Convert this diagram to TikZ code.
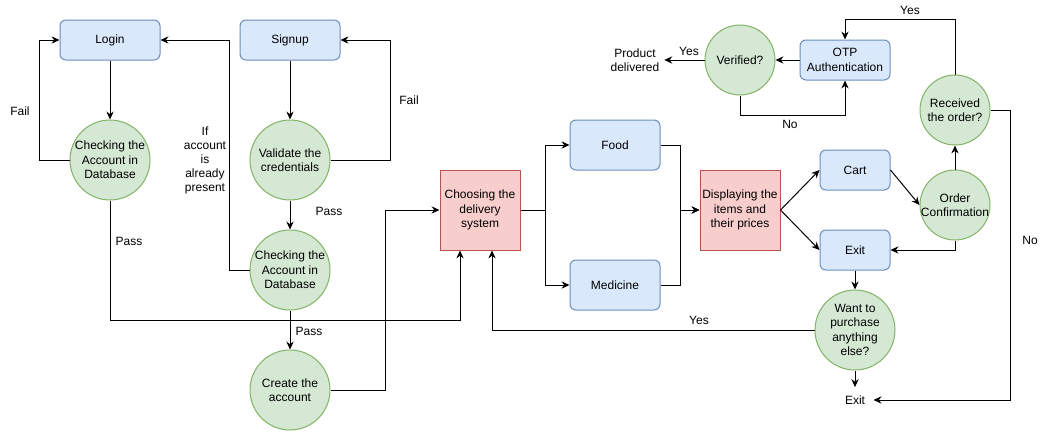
\documentclass[tikz,border=0pt]{standalone}
\usepackage{fontspec}
\setmainfont{Liberation Sans}
\usetikzlibrary{arrows.meta}
\definecolor{bluefill}{HTML}{DAE8FC}
\definecolor{blueline}{HTML}{6C8EBF}
\definecolor{greenfill}{HTML}{D5E8D4}
\definecolor{greenline}{HTML}{82B366}
\definecolor{redfill}{HTML}{F8CECC}
\definecolor{redline}{HTML}{B85450}
\tikzstyle{bluebox}=[draw=blueline, fill=bluefill, rounded corners=4.5pt, minimum width=75pt, minimum height=30pt, align=center]
\tikzstyle{greencirc}=[circle, draw=greenline, fill=greenfill, minimum size=60pt, inner sep=0pt, align=center]
\tikzstyle{redbox}=[draw=redline, fill=redfill, minimum width=60pt, minimum height=60pt, inner sep=0pt, align=center]
\tikzstyle{flow}=[-{Stealth[length=6pt, width=5.5pt, inset=2pt]}]

\begin{document}
\begin{tikzpicture}[x=0.75pt, y=-0.75pt, line width=0.75pt, font=\fontsize{9}{10.8}\selectfont]
    \useasboundingbox (0,0) rectangle (1051,432);
    \node[bluebox] (login) at (110, 40) {Login};
    \node[bluebox] (signup) at (290, 40) {Signup};
    \node[greencirc] (check1) at (110, 160) {Checking the\\Account in\\Database};
    \node[greencirc] (validate) at (290, 160) {Validate the\\credentials};
    \node[greencirc] (check2) at (290, 270) {Checking the\\Account in\\Database};
    \node[greencirc] (create) at (290, 390) {Create the\\account};
    \node[redbox] (choose) at (480, 210) {Choosing the\\delivery\\system};
    \node[bluebox, minimum width=67.5pt, minimum height=37.5pt] (food) at (615, 145) {Food};
    \node[bluebox, minimum width=67.5pt, minimum height=37.5pt] (medicine) at (615, 285) {Medicine};
    \node[redbox] (display) at (740, 210) {Displaying the\\items and\\their prices};
    \node[bluebox, minimum width=52.5pt] (cart) at (855, 170) {Cart};
    \node[bluebox, minimum width=52.5pt] (exitbox) at (855, 250) {Exit};
    \node[greencirc, minimum size=52.5pt, inner sep=-1.5pt] (order) at (955, 205) {Order\\Confirmation};
    \node[greencirc, minimum size=52.5pt, inner sep=-1pt] (received) at (955, 110) {Received\\the order?};
    \node[bluebox, minimum width=67.5pt] (otp) at (845, 60) {OTP\\Authentication};
    \node[greencirc, minimum size=52.5pt] (verified) at (740, 60) {Verified?};
    \node[align=center] (delivered) at (635, 60) {Product\\delivered};
    \node[greencirc] (want) at (855, 330) {Want to\\purchase\\anything\\else?};
    \node[inner sep=6pt] (exit) at (855, 400) {Exit};

    \draw[flow] (login) -- (check1);
    \draw[flow] (check1.west) -- ++(-30, 0) |- (login.west);
    \draw[flow] (signup) -- (validate);
    \draw[flow] (validate.east) -- ++(60, 0) |- (signup.east);
    \draw[flow] (validate) -- (check2);
    \draw[flow] (check2.west) -- ++(-20, 0) |- (login.east);
    \draw[flow] (check2) -- (create);
    \draw[flow] (check1.south) -- ++(0, 120) -| ([xshift=-15pt]choose.south);
    \draw[flow] (create.east) -- ++(55, 0) |- (choose.west);
    \draw[flow] (choose.east) -- ++(25, 0) |- (food.west);
    \draw[flow] (choose.east) -- ++(25, 0) |- (medicine.west);
    \draw[flow] (food.east) -- ++(20, 0) |- (display.west);
    \draw[flow] (medicine.east) -- ++(20, 0) |- (display.west);
    \draw[flow] (display.east) -- (cart.west);
    \draw[flow] (display.east) -- (exitbox.west);
    \draw[flow] (cart.east) -- (order.west);
    \draw[flow] (order.south) |- (exitbox.east);
    \draw[flow] (order) -- (received);
    \draw[flow] (received.north) -- ++(0, -55) -| (otp.north);
    \draw[flow] (received.east) -- ++(20, 0) |- (exit.east);
    \draw[flow] (otp) -- (verified);
    \draw[flow] (verified.south) -- ++(0, 20) -| (otp.south);
    \draw[flow] (verified) -- (delivered);
    \draw[flow] (exitbox) -- (want);
    \draw[flow] (want) -- (exit);
    \draw[flow] (want.west) -| ([xshift=9pt]choose.south);

    \node (fail1) at (20, 111) {Fail};
    \node (fail2) at (409, 100) {Fail};
    \node[align=center, font=\fontsize{9}{10.5}\selectfont] (present) at (205, 160) {If\\account\\is\\already\\present};
    \node (pass1) at (129, 241) {Pass};
    \node (pass2) at (329, 211) {Pass};
    \node (pass3) at (309, 331) {Pass};
    \node (yes1) at (699, 320) {Yes};
    \node (yes2) at (689, 51) {Yes};
    \node (yes3) at (910, 10) {Yes};
    \node (no1) at (790, 124) {No};
    \node (no2) at (1030, 240) {No};
\end{tikzpicture}
\end{document}
